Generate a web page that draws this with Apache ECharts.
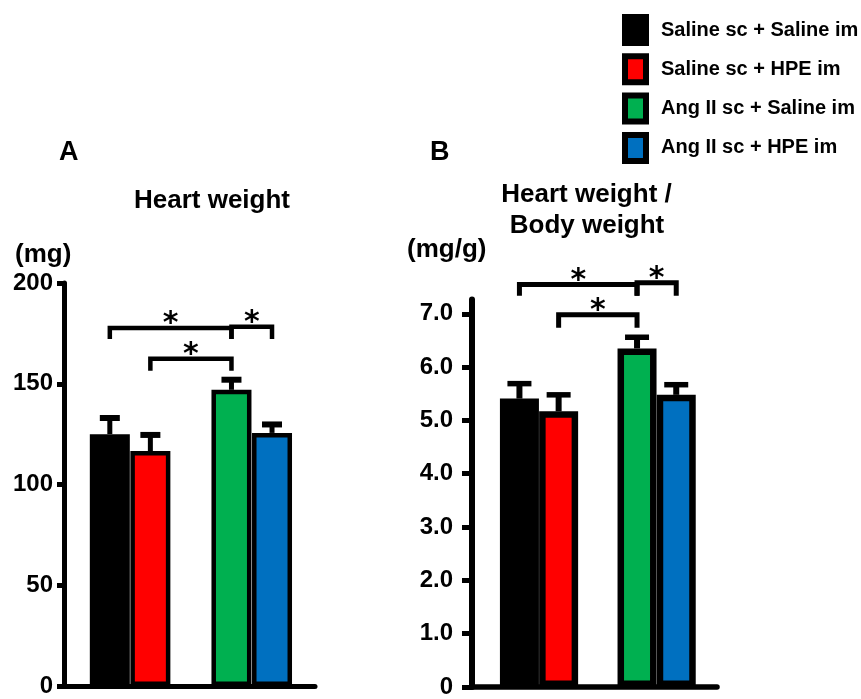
<!DOCTYPE html>
<html><head><meta charset="utf-8">
<script src="https://cdn.jsdelivr.net/npm/echarts@6/dist/echarts.min.js"></script>
<style>html,body{margin:0;padding:0;background:#fff}#c{width:861px;height:699px}</style>
</head><body><div id="c"></div>
<script>
// ---- data ----
const groups = ['Saline sc + Saline im', 'Saline sc + HPE im', 'Ang II sc + Saline im', 'Ang II sc + HPE im'];
const colors = ['#000000', '#FF0000', '#00B050', '#0070C0'];
const barPos = [0, 1, 3, 4];
const heartWeight = [125, 116.6, 147, 125.6];
const heartWeightSEM = [8, 8, 5, 4.2];
const hwbw = [5.41, 5.17, 6.35, 5.48];
const hwbwSEM = [0.28, 0.31, 0.21, 0.19];
// significance brackets: [fromGroupIndex, toGroupIndex, lineLevel, legEnd]
const sigA = [[0, 2, 177.7, 172.2], [2, 3, 178.3, 172.2], [1, 2, 162.4, 156.5]];
const sigB = [[0, 2, 7.55, 7.34], [2, 3, 7.58, 7.34], [1, 2, 6.98, 6.74]];
const ticksA = [0, 50, 100, 150, 200];
const labelsA = ['0', '50', '100', '150', '200'];
const ticksB = [0, 1, 2, 3, 4, 5, 6, 7];
const labelsB = ['0', '1.0', '2.0', '3.0', '4.0', '5.0', '6.0', '7.0'];

const FONT = "'Liberation Sans', Arial, sans-serif";
const chart = echarts.init(document.getElementById('c'));

function yAxisCfg(idx, max, ticks, labels, tickLen, margin, lw) {
  return {
    type: 'value', gridIndex: idx, min: 0, max: max,
    axisLine: { show: true, onZero: false, lineStyle: { color: '#000', width: lw } },
    axisTick: { show: true, length: tickLen, customValues: ticks, lineStyle: { color: '#000', width: 5 } },
    axisLabel: {
      show: true, customValues: ticks, margin: margin,
      formatter: v => labels[ticks.indexOf(v)] ?? '',
      color: '#000', fontSize: 24, fontWeight: 'bold', fontFamily: FONT
    },
    splitLine: { show: false }
  };
}
function xAxisCfg(idx, min, max, lw) {
  return {
    type: 'value', gridIndex: idx, min: min, max: max,
    axisLine: { show: true, onZero: false, lineStyle: { color: '#000', width: lw } },
    axisTick: { show: false }, axisLabel: { show: false }, splitLine: { show: false }
  };
}

const series = [];
function addPanel(idx, vals, sems, sig, barW, borderW, stemW, capW, capT, brW, starDy) {
  groups.forEach((g, j) => {
    series.push({
      type: 'bar', name: g, xAxisIndex: idx, yAxisIndex: idx,
      data: [[barPos[j], vals[j]]],
      barWidth: barW, barGap: '-100%',
      itemStyle: { color: colors[j], borderColor: '#000', borderWidth: borderW },
      silent: true, z: 2
    });
  });
  series.push({
    type: 'custom', xAxisIndex: idx, yAxisIndex: idx, silent: true, z: 3, clip: false,
    data: barPos.map((x, j) => [x, vals[j], vals[j] + sems[j]]),
    encode: { x: 0, y: [1, 2] },
    renderItem: (params, api) => {
      const pm = api.coord([api.value(0), api.value(1)]);
      const pu = api.coord([api.value(0), api.value(2)]);
      return { type: 'group', children: [
        { type: 'line', shape: { x1: pm[0], y1: pm[1], x2: pu[0], y2: pu[1] }, style: { stroke: '#000', lineWidth: stemW } },
        { type: 'line', shape: { x1: pu[0] - capW / 2, y1: pu[1], x2: pu[0] + capW / 2, y2: pu[1] }, style: { stroke: '#000', lineWidth: capT } }
      ] };
    }
  });
  series.push({
    type: 'custom', xAxisIndex: idx, yAxisIndex: idx, silent: true, z: 3, clip: false,
    data: sig.map(s => [barPos[s[0]], barPos[s[1]], s[2], s[3]]),
    encode: { x: [0, 1], y: [2, 3] },
    renderItem: (params, api) => {
      const a = api.coord([api.value(0), api.value(3)]);
      const b = api.coord([api.value(0), api.value(2)]);
      const c = api.coord([api.value(1), api.value(2)]);
      const d = api.coord([api.value(1), api.value(3)]);
      return { type: 'group', children: [
        { type: 'polyline', shape: { points: [a, b, c, d] }, style: { stroke: '#000', lineWidth: brW, fill: null, lineJoin: 'miter' } },
        { type: 'text', x: (b[0] + c[0]) / 2, y: b[1] - starDy,
          style: { text: '*', fill: '#000', font: "bold 30px 'DejaVu Sans', sans-serif", textAlign: 'center', textVerticalAlign: 'middle' } }
      ] };
    }
  });
}
addPanel(0, heartWeight, heartWeightSEM, sigA, 40, 4.5, 5, 20, 6, 4.5, 3.5);
addPanel(1, hwbw, hwbwSEM, sigB, 39, 6.5, 6, 24, 5.5, 5, 3.5);

const txt = (t, x, y, size, align) => ({
  type: 'text', x: x, y: y, silent: true,
  style: { text: t, fill: '#000', font: 'bold ' + size + 'px ' + FONT, textAlign: align, textVerticalAlign: 'middle' }
});

chart.setOption({
  animation: false,
  grid: [
    { left: 64, top: 283, width: 251, height: 403, containLabel: false },
    { left: 472, top: 299.4, width: 245, height: 388.6, containLabel: false }
  ],
  xAxis: [xAxisCfg(0, -1.13, 5.06, 5), xAxisCfg(1, -1.21, 5.04, 5.5)],
  yAxis: [yAxisCfg(0, 200, ticksA, labelsA, 7, 11, 5), yAxisCfg(1, 7.27, ticksB, labelsB, 10, 19, 6)],
  legend: {
    data: groups, orient: 'vertical', left: 622, top: 14, padding: 0,
    itemWidth: 21, itemHeight: 26, itemGap: 7.3, icon: 'rect', selectedMode: false,
    itemStyle: { borderColor: '#000', borderWidth: 6 },
    textStyle: { color: '#000', fontSize: 20, fontWeight: 'bold', fontFamily: FONT, padding: [0, 0, 0, 10] }
  },
  graphic: [
    txt('A', 59, 153, 27, 'left'),
    txt('Heart weight', 212, 201, 26, 'center'),
    txt('(mg)', 15, 255, 26, 'left'),
    txt('B', 430, 152.5, 27, 'left'),
    txt('Heart weight /', 586.5, 194.5, 26, 'center'),
    txt('Body weight', 587, 225.5, 26, 'center'),
    txt('(mg/g)', 407, 249.5, 26, 'left')
  ],
  series: series
});
</script></body></html>
